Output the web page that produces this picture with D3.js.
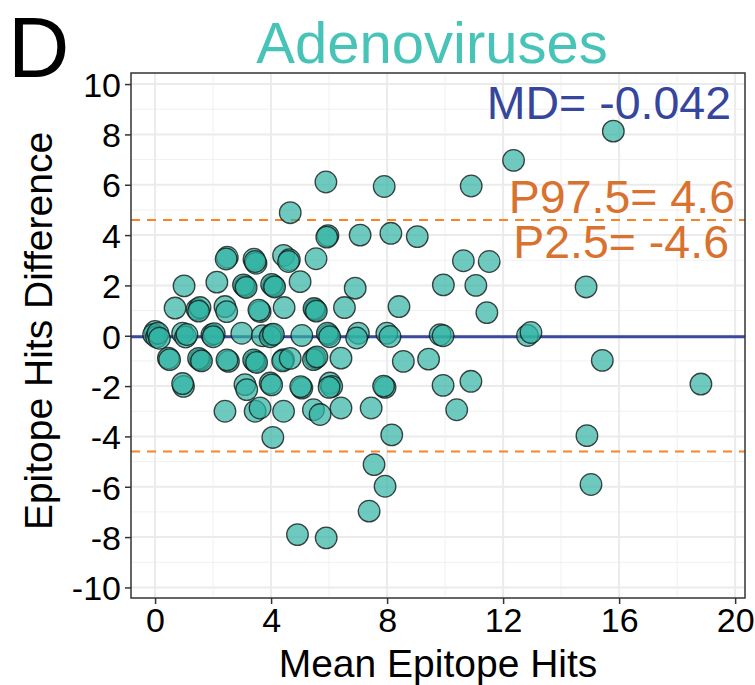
<!DOCTYPE html>
<html>
<head>
<meta charset="utf-8">
<script src="https://cdn.jsdelivr.net/npm/d3@7"></script>
<style>
  body { margin: 0; background: #fff; }
  text { font-family: "Liberation Sans", Arial, sans-serif; }
</style>
</head>
<body>
<script>
// Bland-Altman data (mean, difference)
var meanHits = [
  15.8, 12.36, 10.9, 7.9, 5.89, 4.66, 5.96, 5.92, 7.07, 8.13, 9.04, 10.63, 11.52, 5.55,
  9.94, 11.06, 14.86, 6.9, 5.0, 5.52, 5.48, 5.56, 6.53, 8.41, 11.44,
  5.06, 5.98, 5.94, 6.02, 7.01, 6.95, 7.99, 8.1, 9.83, 9.93, 12.84, 12.96,
  5.52, 5.46, 5.58, 6.41, 8.56, 9.43, 15.42,
  5.06, 5.02, 6.03, 6.09, 6.0, 7.93, 7.88, 9.93, 10.89, 18.82,
  5.46, 5.69, 6.41, 7.45, 10.4, 8.16, 14.89, 7.55, 7.93, 15.03, 7.38, 4.91, 5.9,
  4.43, 4.63, 4.6, 2.49, 2.45, 3.41, 3.48, 3.45,
  1.0, 2.13, 3.1, 3.05, 3.14, 4.08, 4.02, 4.12,
  0.69, 1.45, 1.55, 1.5, 2.41, 2.47, 3.62, 3.58, 4.45,
  0.0, -0.05, 0.05, 0.1, 0.15, 0.95, 1.05, 1.1, 1.96, 2.04, 2.0, 2.99, 3.7, 4.02, 3.97, 4.08,
  0.46, 0.5, 1.55, 1.5, 1.6, 2.53, 2.48, 3.45, 3.4, 3.5, 4.43, 4.4, 4.66,
  0.98, 0.95, 3.1, 3.16, 3.97, 4.02,
  2.41, 3.45, 3.62, 4.43, 4.06
]
var diffHits = [
  8.13, 6.97, 5.95, 5.93, 6.11, 4.89, 3.98, 3.92, 4.0, 4.07, 3.94, 2.98, 2.95, 3.06,
  2.02, 2.0, 1.94, 1.89, 2.15, 1.03, 1.08, 0.98, 1.12, 1.16, 0.92,
  0.01, 0.04, 0.1, -0.04, 0.1, -0.09, 0.1, -0.03, 0.04, 0.0, 0.01, 0.13,
  -0.89, -0.95, -0.84, -0.89, -1.02, -0.93, -0.98,
  -2.08, -2.02, -1.88, -2.01, -2.05, -2.05, -2.0, -1.97, -1.81, -1.92,
  -2.94, -3.13, -2.87, -2.87, -2.94, -3.94, -3.97, -5.12, -5.98, -5.91, -6.97, -7.9, -8.03,
  3.19, 3.02, 2.95, 3.12, 3.05, 3.04, 2.88, 2.95,
  1.98, 2.13, 1.96, 2.02, 1.92, 1.98, 2.04, 1.94,
  1.1, 1.05, 1.12, 0.98, 1.16, 0.96, 0.96, 1.02, 1.12,
  0.17, 0.05, -0.05, 0.1, -0.1, 0.1, -0.05, 0.05, 0.04, 0.08, -0.04, 0.1, 0.0, 0.04, -0.04, 0.06,
  -0.89, -0.95, -0.95, -0.9, -1.0, -1.02, -0.96, -1.02, -0.96, -1.06, -0.95, -1.0, -0.9,
  -2.01, -1.9, -1.94, -2.14, -1.88, -1.95,
  -3.0, -3.0, -2.87, -3.0, -4.04
]
var mdValue = -0.042
var p975Value = 4.6
var p025Value = -4.6
var xTicks = [0, 4, 8, 12, 16, 20]
var xMinor = [2, 6, 10, 14, 18]
var yTicks = [-10, -8, -6, -4, -2, 0, 2, 4, 6, 8, 10]
var yMinor = [-9, -7, -5, -3, -1, 1, 3, 5, 7, 9]

var width = 755, height = 685
var padLeft = 131, padRight = 745, padTop = 73, padBottom = 598

var svg = d3.select("body").append("svg").attr("width", width).attr("height", height)

var x = d3.scaleLinear().domain([-0.83, 20.34]).range([padLeft, padRight])
var y = d3.scaleLinear().domain([-10.42, 10.44]).range([padBottom, padTop])

// grid
var grid = svg.append("g")
grid.selectAll(".xminor").data(xMinor).enter().append("line")
  .attr("x1", d => x(d)).attr("x2", d => x(d)).attr("y1", padTop).attr("y2", padBottom)
  .attr("stroke", "#f0f0f0").attr("stroke-width", 1)
grid.selectAll(".yminor").data(yMinor).enter().append("line")
  .attr("x1", padLeft).attr("x2", padRight).attr("y1", d => y(d)).attr("y2", d => y(d))
  .attr("stroke", "#f0f0f0").attr("stroke-width", 1)
grid.selectAll(".xmajor").data(xTicks).enter().append("line")
  .attr("x1", d => x(d)).attr("x2", d => x(d)).attr("y1", padTop).attr("y2", padBottom)
  .attr("stroke", "#ebebeb").attr("stroke-width", 2)
grid.selectAll(".ymajor").data(yTicks).enter().append("line")
  .attr("x1", padLeft).attr("x2", padRight).attr("y1", d => y(d)).attr("y2", d => y(d))
  .attr("stroke", "#ebebeb").attr("stroke-width", 2)

// reference lines
svg.append("line")
  .attr("x1", padLeft).attr("x2", padRight).attr("y1", y(mdValue)).attr("y2", y(mdValue))
  .attr("stroke", "#3a4a9f").attr("stroke-width", 3)
;[p975Value, p025Value].forEach(function(v) {
  svg.append("line")
    .attr("x1", padLeft).attr("x2", padRight).attr("y1", y(v)).attr("y2", y(v))
    .attr("stroke", "#f5842a").attr("stroke-width", 2)
    .attr("stroke-dasharray", "9,7")
})

// points
var pts = d3.zip(meanHits, diffHits)
svg.append("g").selectAll("circle").data(pts).enter().append("circle")
  .attr("cx", d => x(d[0])).attr("cy", d => y(d[1])).attr("r", 10.8)
  .attr("fill", "rgba(48,180,162,0.7)")
  .attr("stroke", "rgba(20,20,20,0.78)").attr("stroke-width", 1.3)

// annotations
svg.append("text").attr("x", 731).attr("y", 119).attr("text-anchor", "end")
  .attr("font-size", 46.5).attr("fill", "#36469c").text("MD= " + mdValue)
svg.append("text").attr("x", 735).attr("y", 213).attr("text-anchor", "end")
  .attr("font-size", 46.5).attr("fill", "#d8722e").text("P97.5= " + p975Value)
svg.append("text").attr("x", 729).attr("y", 258).attr("text-anchor", "end")
  .attr("font-size", 46.5).attr("fill", "#d8722e").text("P2.5= " + p025Value)

// panel border
svg.append("rect").attr("x", padLeft).attr("y", padTop)
  .attr("width", padRight - padLeft).attr("height", padBottom - padTop)
  .attr("fill", "none").attr("stroke", "#333").attr("stroke-width", 1.5)

// axes (plain hyphen minus like the original)
var fmt = d => String(d)
var xAxis = svg.append("g").attr("transform", "translate(0," + padBottom + ")")
  .call(d3.axisBottom(x).tickValues(xTicks).tickFormat(fmt).tickSize(6).tickPadding(4))
var yAxis = svg.append("g").attr("transform", "translate(" + padLeft + ",0)")
  .call(d3.axisLeft(y).tickValues(yTicks).tickFormat(fmt).tickSize(6).tickPadding(4))
;[xAxis, yAxis].forEach(function(a) {
  a.select(".domain").remove()
  a.selectAll(".tick line").attr("stroke", "#333").attr("stroke-width", 1.5)
  a.selectAll(".tick text").attr("fill", "#000").attr("font-size", 34)
    .attr("font-family", "Liberation Sans, Arial, sans-serif")
})
yAxis.selectAll(".tick text").attr("dy", "0.36em")

// titles
svg.append("text").attr("x", 432).attr("y", 63).attr("text-anchor", "middle")
  .attr("font-size", 58).attr("fill", "#47c4b7").text("Adenoviruses")
svg.append("text").attr("x", 8).attr("y", 77)
  .attr("font-size", 85).attr("fill", "#000").text("D")
svg.append("text").attr("x", 438).attr("y", 677).attr("text-anchor", "middle")
  .attr("font-size", 39).attr("fill", "#000").text("Mean Epitope Hits")
svg.append("text").attr("transform", "translate(52,331) rotate(-90)")
  .attr("text-anchor", "middle")
  .attr("font-size", 39).attr("fill", "#000").text("Epitope Hits Difference")
</script>
</body>
</html>
